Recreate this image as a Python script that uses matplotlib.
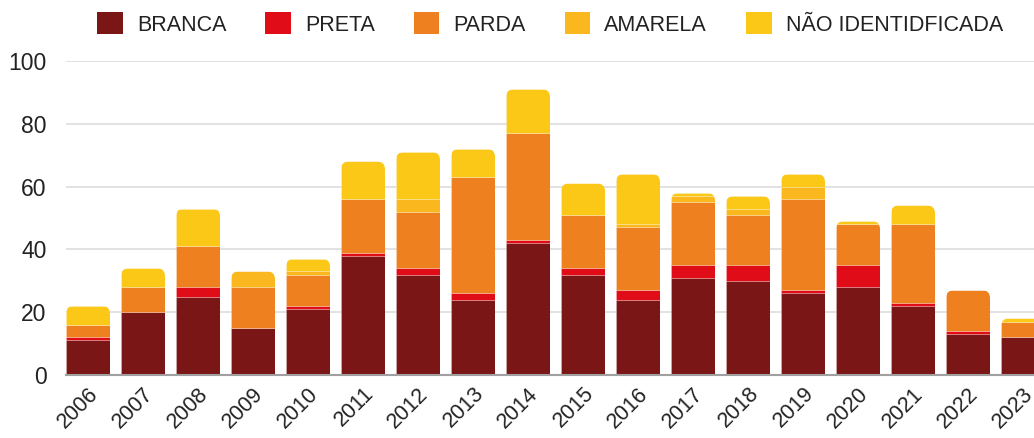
import matplotlib
matplotlib.use("Agg")
import matplotlib.pyplot as plt
from matplotlib.patches import FancyBboxPatch, Patch
import numpy as np

years = ["2006", "2007", "2008", "2009", "2010", "2011", "2012", "2013", "2014",
         "2015", "2016", "2017", "2018", "2019", "2020", "2021", "2022", "2023"]
branca = [11, 20, 25, 15, 21, 38, 32, 24, 42, 32, 24, 31, 30, 26, 28, 22, 13, 12]
preta = [1, 0, 3, 0, 1, 1, 2, 2, 1, 2, 3, 4, 5, 1, 7, 1, 1, 0]
parda = [4, 8, 13, 13, 10, 17, 18, 37, 34, 17, 20, 20, 16, 29, 13, 25, 13, 5]
amarela = [0, 0, 0, 5, 1, 0, 4, 0, 0, 0, 1, 2, 2, 4, 0, 0, 0, 0]
nao_ident = [6, 6, 12, 0, 4, 12, 15, 9, 14, 10, 16, 1, 4, 4, 1, 6, 0, 1]

series = [
    ("BRANCA", branca, "#7a1616"),
    ("PRETA", preta, "#e00d18"),
    ("PARDA", parda, "#ef8020"),
    ("AMARELA", amarela, "#fbb81e"),
    ("NÃO IDENTIDFICADA", nao_ident, "#fcc817"),
]

plt.rcParams['font.family'] = ['Liberation Sans', 'DejaVu Sans']

W, H = 1034, 438
fig = plt.figure(figsize=(W / 100, H / 100), dpi=100)
ax = fig.add_axes([66 / W, 1 - 375 / H, (W - 66) / W, (375 - 61) / H])

x = np.arange(len(years))
width = 0.8
ax.set_xlim(-0.4, 17.2)
ax.set_ylim(0, 100)

totals = np.zeros(len(years))
for name, vals, col in series:
    totals += np.array(vals, dtype=float)

# pixels per data unit
px_x = (W - 66) / 17.6
px_y = 314 / 100.0
m_aspect = px_x / px_y
radius_px = 8

bottom = np.zeros(len(years))
for name, vals, col in series:
    v = np.array(vals, dtype=float)
    bars = ax.bar(x, v, width, bottom=bottom, color=col, label=name,
                  edgecolor=(1, 1, 1, 0.25), linewidth=0.6, zorder=3)
    for i, b in enumerate(bars):
        cp = FancyBboxPatch((x[i] - width / 2, -10), width, totals[i] + 10,
                            boxstyle=f"round,pad=0,rounding_size={radius_px / px_x}",
                            mutation_aspect=m_aspect,
                            facecolor="none", edgecolor="none")
        cp.set_transform(ax.transData)
        b.set_clip_path(cp)
    bottom += v

ax.set_yticks([0, 20, 40, 60, 80, 100])
ax.yaxis.grid(True, color="#dddddd", linewidth=1.2, zorder=0)
ax.set_axisbelow(True)
for s in ["left", "right", "top"]:
    ax.spines[s].set_visible(False)
ax.spines["bottom"].set_color("#a0a0a0")
ax.spines["bottom"].set_linewidth(1.5)
ax.spines["bottom"].set_zorder(4)
ax.tick_params(axis="y", length=0, pad=14, labelsize=16.5, labelcolor="#222222")
ax.tick_params(axis="x", length=0, pad=6, labelsize=15.5, labelcolor="#222222")
ax.set_xticks(x)
ax.set_xticklabels(years, rotation=45, ha="right", rotation_mode="anchor")

handles = [Patch(facecolor=c, edgecolor="none") for _, _, c in series]
fig.legend(handles, [n for n, _, _ in series], loc="center", ncol=5,
           bbox_to_anchor=(550 / W, 1 - 24 / H), frameon=False,
           fontsize=15.5, handlelength=1.2, handleheight=1.2,
           handletextpad=0.65, columnspacing=1.8, labelcolor="#222222")

fig.savefig("out.png", dpi=100)
